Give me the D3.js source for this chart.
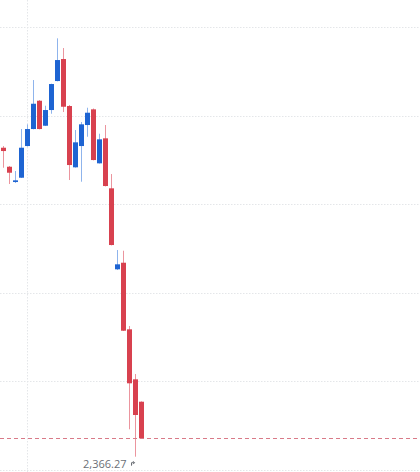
<!DOCTYPE html>
<html>
<head>
<meta charset="utf-8">
<script src="https://cdn.jsdelivr.net/npm/d3@7"></script>
<style>
  html, body { margin: 0; padding: 0; background: #ffffff; }
  svg { display: block; }
</style>
</head>
<body>
<div id="chart"></div>
<script>
// ---- data ----
const candleIndex = d3.range(24);
const opens  = [2540.64, 2529.91, 2521.28, 2523.71, 2541.59, 2551.19, 2567.16, 2553.05, 2561.91, 2578.27, 2590.69, 2564.17, 2529.58, 2541.59, 2553.45, 2562.30, 2531.83, 2545.94, 2517.73, 2472.02, 2475.74, 2438.16, 2409.94, 2397.30];
const highs  = [2541.59, 2530.31, 2527.49, 2551.19, 2553.84, 2578.84, 2567.55, 2564.34, 2576.78, 2602.37, 2596.90, 2564.73, 2550.62, 2555.14, 2563.21, 2562.78, 2548.54, 2553.45, 2525.79, 2482.91, 2482.51, 2440.02, 2412.93, 2397.50];
const lows   = [2529.35, 2520.15, 2520.72, 2523.54, 2541.30, 2551.00, 2551.00, 2552.88, 2559.82, 2578.10, 2560.78, 2522.41, 2529.40, 2521.45, 2546.84, 2533.50, 2531.70, 2518.80, 2485.50, 2471.62, 2437.20, 2381.73, 2366.27, 2376.40];
const closes = [2538.77, 2526.53, 2522.24, 2540.64, 2551.19, 2565.46, 2551.19, 2561.91, 2576.58, 2590.12, 2563.77, 2530.87, 2543.68, 2553.84, 2560.39, 2533.69, 2545.38, 2519.02, 2485.73, 2474.84, 2437.37, 2407.69, 2389.80, 2376.65];
const gridPrices = [2358.77, 2408.77, 2458.77, 2508.77, 2558.77, 2608.77];
const gridIndex = [4];
const lowLabel = "2,366.27";

// ---- layout ----
const W = 420, H = 472;
const svg = d3.select("#chart").append("svg").attr("width", W).attr("height", H);

const x = d3.scaleLinear().domain([0, 23]).range([3, 141]);
const y = d3.scaleLinear().domain([2366.27, 2608.77]).range([456.7, 27]);

const UP = "#1e64d2", DOWN = "#d8414f";
const UP_WICK = "#8fb4ec", DOWN_WICK = "#eb959e";

// grid
svg.append("g").selectAll("line").data(gridPrices).join("line")
  .attr("x1", 0).attr("x2", W)
  .attr("y1", d => Math.round(y(d)) + 0.5).attr("y2", d => Math.round(y(d)) + 0.5)
  .attr("stroke", "#e4e6e9").attr("stroke-width", 1).attr("stroke-dasharray", "1.5,1.5");
svg.append("g").selectAll("line").data(gridIndex).join("line")
  .attr("x1", d => Math.round(x(d)) + 0.5).attr("x2", d => Math.round(x(d)) + 0.5)
  .attr("y1", 0).attr("y2", H)
  .attr("stroke", "#e4e6e9").attr("stroke-width", 1).attr("stroke-dasharray", "1.5,1.5");

const data = candleIndex.map(i => ({i, o: opens[i], h: highs[i], l: lows[i], c: closes[i]}));

// wicks
svg.append("g").selectAll("line").data(data).join("line")
  .attr("x1", d => Math.round(x(d.i)) + 0.5).attr("x2", d => Math.round(x(d.i)) + 0.5)
  .attr("y1", d => y(d.h)).attr("y2", d => y(d.l))
  .attr("stroke", d => d.c >= d.o ? UP_WICK : DOWN_WICK).attr("stroke-width", 1);

// bodies
const bw = 5;
svg.append("g").selectAll("rect").data(data).join("rect")
  .attr("x", d => Math.round(x(d.i)) - 2)
  .attr("width", bw)
  .attr("y", d => y(Math.max(d.o, d.c)))
  .attr("height", d => Math.max(1.5, Math.abs(y(d.o) - y(d.c))))
  .attr("fill", d => d.c >= d.o ? UP : DOWN);

// last price dashed line
const last = closes[closes.length - 1];
svg.append("line")
  .attr("x1", 0).attr("x2", W)
  .attr("y1", Math.round(y(last)) + 0.5).attr("y2", Math.round(y(last)) + 0.5)
  .attr("stroke", "#d97a88").attr("stroke-width", 1).attr("stroke-dasharray", "4,3");

// lowest price marker
const minI = d3.minIndex(lows);
const mx = Math.round(x(minI)) + 0.5;
const my = y(lows[minI]);
svg.append("text")
  .attr("x", mx - 9).attr("y", my + 11)
  .attr("text-anchor", "end")
  .attr("font-family", "'Open Sans', 'Noto Sans', sans-serif")
  .attr("font-size", 11)
  .attr("fill", "#6b6f76")
  .text(lowLabel);
svg.append("path")
  .attr("d", `M${mx - 4},${my + 9} L${mx - 4},${my + 6} L${mx - 1},${my + 6} M${mx - 2.5},${my + 4.5} L${mx - 1},${my + 6} L${mx - 2.5},${my + 7.5}`)
  .attr("fill", "none").attr("stroke", "#6b6f76").attr("stroke-width", 1);
</script>
</body>
</html>
